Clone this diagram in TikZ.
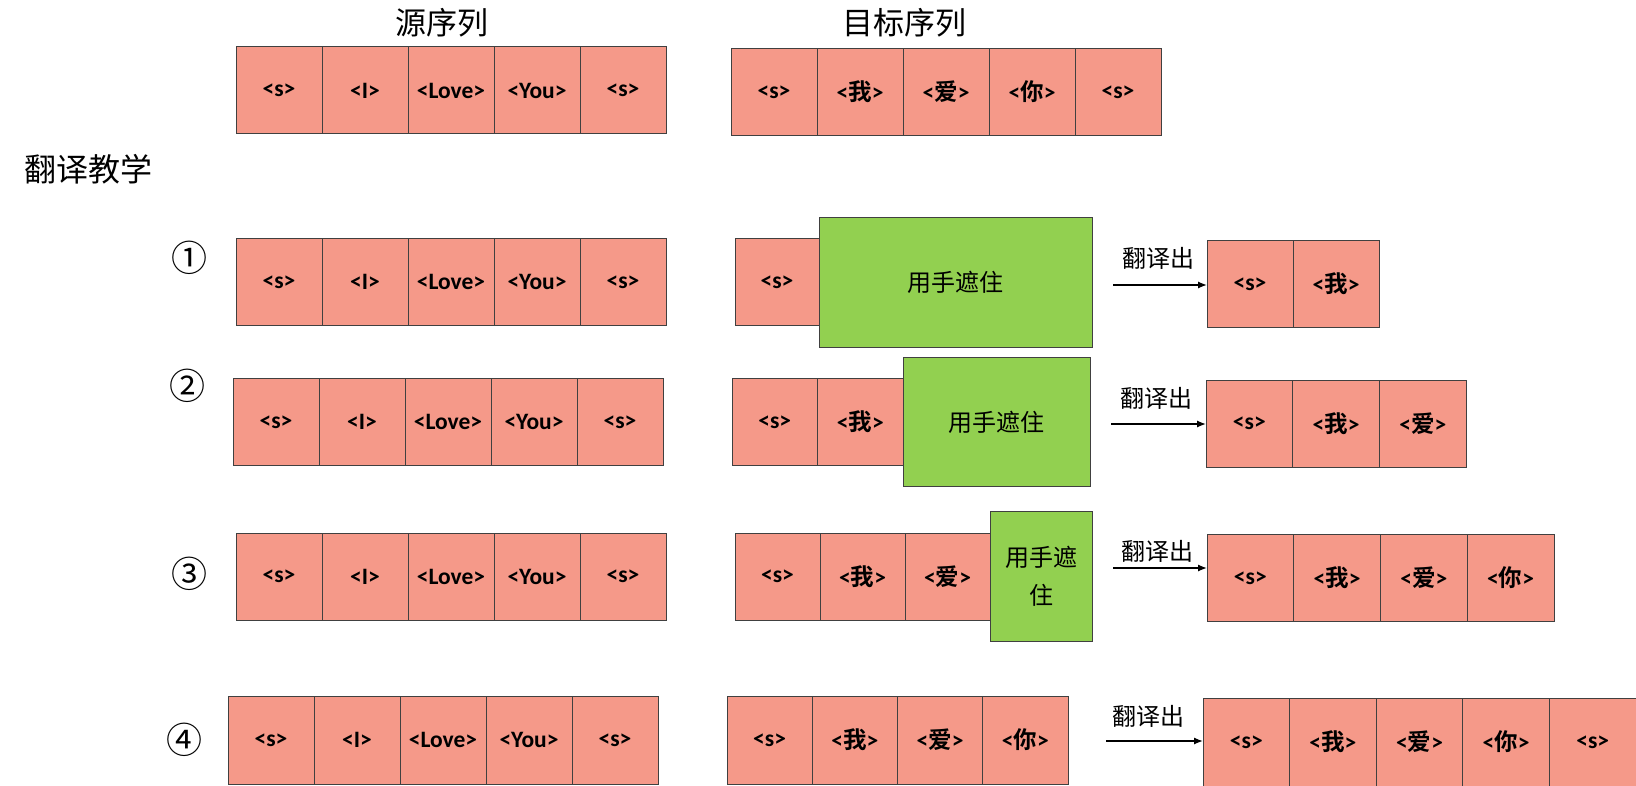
\documentclass[tikz,border=0pt]{standalone}
\usepackage{fontspec}
\setmainfont{Carlito}
\newfontfamily\cjk[BoldFont={* Bold}]{Noto Sans CJK SC}
\newcommand\zh[1]{{\cjk #1}}
\usetikzlibrary{positioning,arrows.meta}
\definecolor{salmon}{RGB}{245,153,137}
\definecolor{maskgreen}{RGB}{146,208,80}
\tikzset{
  tok/.style={draw=black!75, line width=1pt, fill=salmon, minimum height=87, minimum width=86,
    inner sep=0pt, outer sep=0pt, font=\bfseries\fontsize{23.5}{25}\selectfont},
  mask/.style={draw=black!75, line width=1pt, fill=maskgreen, minimum height=129,
    inner sep=0pt, outer sep=0pt, align=center, font=\cjk\fontsize{24}{38}\selectfont},
  arr/.style={line width=1.3pt, -{Latex[length=9pt,width=7pt]}},
  lbl/.style={font=\cjk\fontsize{24}{26}\selectfont, inner sep=0pt},
  title/.style={font=\cjk\fontsize{31}{33}\selectfont, inner sep=0pt},
  num/.style={font=\cjk\fontsize{36}{38}\selectfont, inner sep=0pt}
}
\begin{document}
\begin{tikzpicture}[x=1pt,y=-1pt]
\useasboundingbox (0,0) rectangle (1636,786);
% titles
\node[title] (tsrc) at (442,23) {源序列};
\node[title] (ttgt) at (904,23) {目标序列};
\node[title, font=\cjk\fontsize{32}{34}\selectfont] (teach) at (88,169) {翻译教学};
% row 0
\node[tok, anchor=west] (s0a) at (236,90.5) {<s>};
\node[tok, right=0pt of s0a] (s0b) {<I>};
\node[tok, right=0pt of s0b] (s0c) {<Love>};
\node[tok, right=0pt of s0c] (s0d) {<You>};
\node[tok, right=0pt of s0d] (s0e) {<s>};
\node[tok, anchor=west] (t0a) at (731,92) {<s>};
\node[tok, right=0pt of t0a] (t0b) {<\zh{我}>};
\node[tok, right=0pt of t0b] (t0c) {<\zh{爱}>};
\node[tok, right=0pt of t0c] (t0d) {<\zh{你}>};
\node[tok, right=0pt of t0d] (t0e) {<s>};
% row 1
\node[num] (n1) at (189,258) {①};
\node[tok, anchor=west] (s1a) at (236,282) {<s>};
\node[tok, right=0pt of s1a] (s1b) {<I>};
\node[tok, right=0pt of s1b] (s1c) {<Love>};
\node[tok, right=0pt of s1c] (s1d) {<You>};
\node[tok, right=0pt of s1d] (s1e) {<s>};
\node[tok, anchor=west, minimum width=84] (t1a) at (735,282.5) {<s>};
\node[mask, anchor=west, minimum width=273] (m1) at (t1a.east) {用手遮住};
\node[tok, anchor=west] (o1a) at (1207,284) {<s>};
\node[tok, right=0pt of o1a] (o1b) {<\zh{我}>};
\coordinate (a1) at (1113,285);
\draw[arr] (a1) -- (a1 -| o1a.west);
\node[lbl] (l1) at (1158,258) {翻译出};
% row 2
\node[num] (n2) at (187,386) {②};
\node[tok, anchor=west] (s2a) at (233,422) {<s>};
\node[tok, right=0pt of s2a] (s2b) {<I>};
\node[tok, right=0pt of s2b] (s2c) {<Love>};
\node[tok, right=0pt of s2c] (s2d) {<You>};
\node[tok, right=0pt of s2d] (s2e) {<s>};
\node[tok, anchor=west, minimum width=85.5] (t2a) at (732,422) {<s>};
\node[tok, right=0pt of t2a, minimum width=85.5] (t2b) {<\zh{我}>};
\node[mask, anchor=west, minimum width=187] (m2) at (t2b.east) {用手遮住};
\node[tok, anchor=west, minimum width=86.7] (o2a) at (1206,423.5) {<s>};
\node[tok, right=0pt of o2a, minimum width=86.7] (o2b) {<\zh{我}>};
\node[tok, right=0pt of o2b, minimum width=86.7] (o2c) {<\zh{爱}>};
\coordinate (a2) at (1111,424);
\draw[arr] (a2) -- (a2 -| o2a.west);
\node[lbl] (l2) at (1156,398) {翻译出};
% row 3
\node[num] (n3) at (189,574) {③};
\node[tok, anchor=west] (s3a) at (236,576.5) {<s>};
\node[tok, right=0pt of s3a] (s3b) {<I>};
\node[tok, right=0pt of s3b] (s3c) {<Love>};
\node[tok, right=0pt of s3c] (s3d) {<You>};
\node[tok, right=0pt of s3d] (s3e) {<s>};
\node[tok, anchor=west, minimum width=85] (t3a) at (735,576.5) {<s>};
\node[tok, right=0pt of t3a, minimum width=85] (t3b) {<\zh{我}>};
\node[tok, right=0pt of t3b, minimum width=85] (t3c) {<\zh{爱}>};
\node[mask, anchor=west, minimum width=102, minimum height=130] (m3) at (t3c.east) {用手遮\\住};
\node[tok, anchor=west, minimum width=86.75] (o3a) at (1207,578) {<s>};
\node[tok, right=0pt of o3a, minimum width=86.75] (o3b) {<\zh{我}>};
\node[tok, right=0pt of o3b, minimum width=86.75] (o3c) {<\zh{爱}>};
\node[tok, right=0pt of o3c, minimum width=86.75] (o3d) {<\zh{你}>};
\coordinate (a3) at (1113,568);
\draw[arr] (a3) -- (a3 -| o3a.west);
\node[lbl] (l3) at (1157,551) {翻译出};
% row 4
\node[num] (n4) at (184,740) {④};
\node[tok, anchor=west, minimum height=88] (s4a) at (228,740) {<s>};
\node[tok, right=0pt of s4a, minimum height=88] (s4b) {<I>};
\node[tok, right=0pt of s4b, minimum height=88] (s4c) {<Love>};
\node[tok, right=0pt of s4c, minimum height=88] (s4d) {<You>};
\node[tok, right=0pt of s4d, minimum height=88] (s4e) {<s>};
\node[tok, anchor=west, minimum width=85.25, minimum height=88] (t4a) at (727,740) {<s>};
\node[tok, right=0pt of t4a, minimum width=85.25, minimum height=88] (t4b) {<\zh{我}>};
\node[tok, right=0pt of t4b, minimum width=85.25, minimum height=88] (t4c) {<\zh{爱}>};
\node[tok, right=0pt of t4c, minimum width=85.25, minimum height=88] (t4d) {<\zh{你}>};
\node[tok, anchor=west, minimum width=86.6, minimum height=88] (o4a) at (1203,742) {<s>};
\node[tok, right=0pt of o4a, minimum width=86.6, minimum height=88] (o4b) {<\zh{我}>};
\node[tok, right=0pt of o4b, minimum width=86.6, minimum height=88] (o4c) {<\zh{爱}>};
\node[tok, right=0pt of o4c, minimum width=86.6, minimum height=88] (o4d) {<\zh{你}>};
\node[tok, right=0pt of o4d, minimum width=86.6, minimum height=88] (o4e) {<s>};
\coordinate (a4) at (1106,741);
\draw[arr] (a4) -- (a4 -| o4a.west);
\node[lbl] (l4) at (1148,716) {翻译出};
\end{tikzpicture}
\end{document}
